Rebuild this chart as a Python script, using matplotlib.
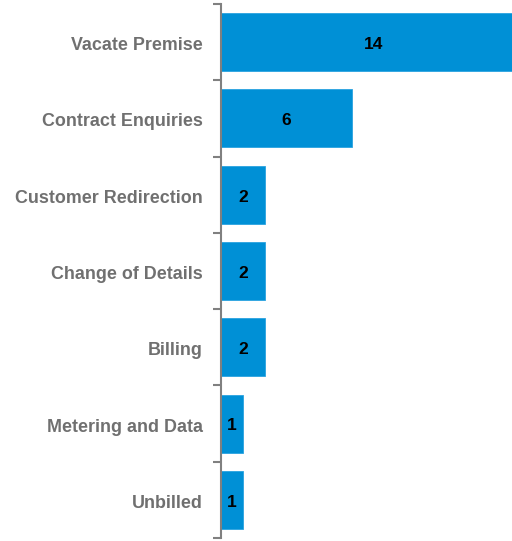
import matplotlib.pyplot as plt
import numpy as np

categories = ["Vacate Premise", "Contract Enquiries", "Customer Redirection",
              "Change of Details", "Billing", "Metering and Data", "Unbilled"]
counts = [14, 6, 2, 2, 2, 1, 1]

plt.rcParams["font.family"] = ["Liberation Sans", "DejaVu Sans"]

fig = plt.figure(figsize=(5.12, 5.41), dpi=100)
ax = fig.add_axes([221 / 512, 3 / 541, 1 - 221 / 512, 534 / 541])

y = np.arange(len(categories))
ax.barh(y, counts, height=0.76, color="#0090D6", edgecolor="#2AA2E0", linewidth=0.6)

for yi, v in zip(y, counts):
    ax.text(v / 2, yi + 0.03, str(v), ha="center", va="center",
            fontsize=12.5, fontweight="bold", color="black")

ax.set_xlim(0, 13.35)
ax.set_ylim(len(categories) - 0.5, -0.5)
ax.set_yticks(y + 0.02)
ax.set_yticklabels(categories, fontsize=12.9, fontweight="bold", color="#707070")
ax.set_yticks(np.arange(-0.5, len(categories)), minor=True)
ax.tick_params(axis="y", which="major", length=0, pad=13)
ax.tick_params(axis="y", which="minor", length=6, width=1.5, color="#808080")
ax.set_xticks([])

for s in ["top", "right", "bottom"]:
    ax.spines[s].set_visible(False)
ax.spines["left"].set_color("#808080")
ax.spines["left"].set_linewidth(1.5)

fig.savefig("out.png", dpi=100)
